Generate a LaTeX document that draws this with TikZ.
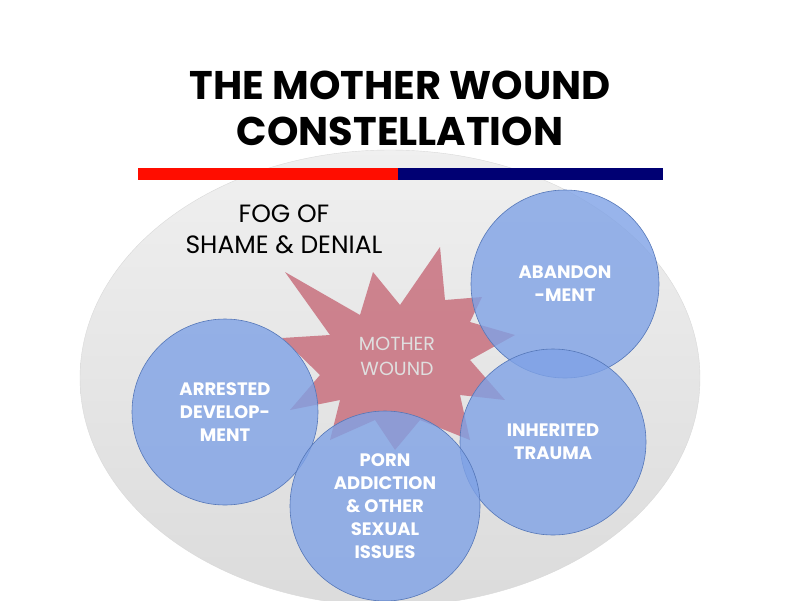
\documentclass[tikz,border=0pt]{standalone}
\usepackage{fontspec}
\setmainfont{Poppins}
\definecolor{bubfill}{HTML}{7FA2E6}
\definecolor{bubline}{HTML}{5577B8}
\definecolor{starc}{HTML}{C8707E}
\begin{document}
\begin{tikzpicture}[x=1pt,y=-1pt,
  bub/.style={circle,draw=bubline,fill=bubfill,fill opacity=0.8,text opacity=1,text=white,font=\fontsize{18}{23}\selectfont\bfseries,align=center,line width=0.6pt}]
\useasboundingbox (0,0) rectangle (800,600);
\fill[white] (0,0) rectangle (800,600);
\shade[top color=gray!12,bottom color=gray!28] (390,378) ellipse [x radius=310,y radius=228];
\draw[gray!30] (390,378) ellipse [x radius=310,y radius=228];
\node[font=\fontsize{40}{46}\selectfont\bfseries,align=center] (title) at (400,108) {THE MOTHER WOUND\\CONSTELLATION};
\fill[red!90!orange] (138,168) rectangle (398,180);
\fill[blue!45!black] (398,168) rectangle (663,180);
\node[font=\fontsize{25}{31}\selectfont\fontseries{m}\selectfont,align=center] (fog) at (284,229) {FOG OF\\SHAME \& DENIAL};
\fill[starc,opacity=0.85] (285,272)--(360,315)--(373,272)--(400,305)--(440,247)--(445,300)--(482,297)--(470,322)--(515,335)--(470,360)--(505,400)--(460,395)--(470,440)--(420,420)--(395,450)--(375,420)--(330,440)--(340,400)--(290,410)--(320,375)--(282,338)--(330,335)--cycle;
\node[text=gray!25,font=\fontsize{19}{25}\selectfont,align=center] (mw) at (397,356) {MOTHER\\WOUND};
\node[bub,minimum size=188pt] (ab) at (565,284) {ABANDON\\-MENT};
\node[bub,minimum size=186pt] (ar) at (225,412) {ARRESTED\\DEVELOP-\\MENT};
\node[bub,minimum size=186pt] (in) at (553,442) {INHERITED\\TRAUMA};
\node[bub,minimum size=190pt] (po) at (385,506) {PORN\\ADDICTION\\\& OTHER\\SEXUAL\\ISSUES};
\end{tikzpicture}
\end{document}
